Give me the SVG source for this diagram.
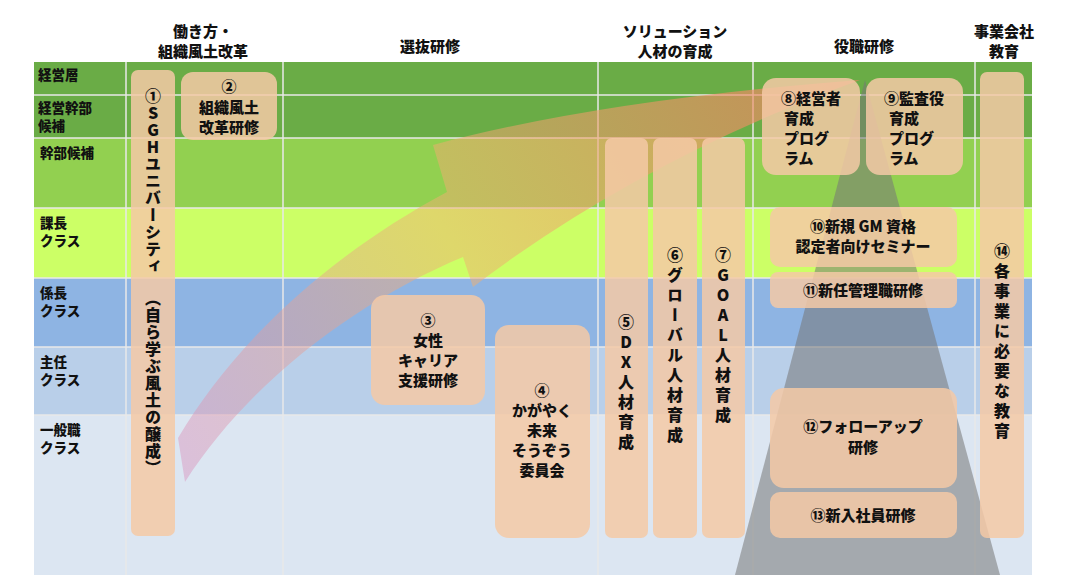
<svg xmlns="http://www.w3.org/2000/svg" width="1090" height="587" viewBox="0 0 1090 587">
<style>
text{font-family:"Noto Sans CJK JP","Noto Sans",sans-serif;font-weight:900;fill:#111}
.h{font-size:15px;text-anchor:middle}
.r{font-size:13.5px}
.b{fill:#f4c9a6;fill-opacity:0.85}
.t{font-size:15px;text-anchor:middle}
.v{font-size:16px;writing-mode:vertical-rl;text-orientation:upright;text-anchor:start;letter-spacing:4px}
.v1{letter-spacing:1px}
.g{stroke:#e8e8e8;stroke-width:1.5}
</style>
<defs>
<linearGradient id="ag" gradientUnits="userSpaceOnUse" x1="173" y1="480" x2="860" y2="80">
<stop offset="0" stop-color="#d890c0" stop-opacity="0.45"/>
<stop offset="0.45" stop-color="#f0b070" stop-opacity="0.5"/>
<stop offset="1" stop-color="#f08060" stop-opacity="0.7"/>
</linearGradient>
</defs>
<rect width="1090" height="587" fill="#fff"/>
<g id="bands">
<rect x="34" y="62" width="998" height="76" fill="#6aac46"/>
<rect x="34" y="138" width="998" height="70" fill="#92d050"/>
<rect x="34" y="208" width="998" height="70" fill="#ccff66"/>
<rect x="34" y="278" width="998" height="69" fill="#8eb4e3"/>
<rect x="34" y="347" width="998" height="68" fill="#b9cfe9"/>
<rect x="34" y="415" width="998" height="160" fill="#dce6f2"/>
<g class="g">
<line x1="34" y1="95" x2="1032" y2="95"/><line x1="34" y1="138" x2="1032" y2="138"/>
<line x1="34" y1="208" x2="1032" y2="208"/><line x1="34" y1="278" x2="1032" y2="278"/>
<line x1="34" y1="347" x2="1032" y2="347"/><line x1="34" y1="415" x2="1032" y2="415"/>
<line x1="126" y1="62" x2="126" y2="575"/><line x1="283" y1="62" x2="283" y2="575"/>
<line x1="598" y1="62" x2="598" y2="575"/><line x1="753" y1="62" x2="753" y2="575"/>
<line x1="975" y1="62" x2="975" y2="575"/>
</g>
</g>
<g id="headers">
<text class="h" x="203" y="37">働き方・</text><text class="h" x="203" y="57">組織風土改革</text>
<text class="h" x="430" y="52">選抜研修</text>
<text class="h" x="675" y="37">ソリューション</text><text class="h" x="675" y="57">人材の育成</text>
<text class="h" x="864" y="52">役職研修</text>
<text class="h" x="1004" y="37">事業会社</text><text class="h" x="1004" y="57">教育</text>
</g>
<g id="rowlabels">
<text class="r" x="38" y="80">経営層</text>
<text class="r" x="38" y="113">経営幹部</text><text class="r" x="38" y="131">候補</text>
<text class="r" x="40" y="158">幹部候補</text>
<text class="r" x="40" y="228">課長</text><text class="r" x="40" y="246">クラス</text>
<text class="r" x="40" y="298">係長</text><text class="r" x="40" y="316">クラス</text>
<text class="r" x="40" y="367">主任</text><text class="r" x="40" y="385">クラス</text>
<text class="r" x="40" y="435">一般職</text><text class="r" x="40" y="453">クラス</text>
</g>
<g id="decor">
<polygon points="865,80 1000,575 735,575" fill="#777" fill-opacity="0.55"/>
<path d="M178,438 C230,350 320,260 447,192 L433,145 Q600,100 860,80 Q640,160 473,287 L463,257 C360,300 250,380 185,482 Z" fill="url(#ag)"/>
</g>
<g id="n1"><rect class="b" x="131" y="70" width="44" height="466" rx="7"/>
<text class="v v1" x="153" y="88">①SGHユニバーシティ</text>
<text class="v v1" x="153" y="290">（自ら学ぶ風土の醸成）</text></g>
<g id="n2"><rect class="b" x="181" y="72" width="96" height="68" rx="12"/>
<text class="t" x="229" y="92">②</text><text class="t" x="229" y="113">組織風土</text><text class="t" x="229" y="133">改革研修</text></g>
<g id="n3"><rect class="b" x="371" y="295" width="114" height="110" rx="14"/>
<text class="t" x="428" y="326">③</text><text class="t" x="428" y="346">女性</text><text class="t" x="428" y="366">キャリア</text><text class="t" x="428" y="386">支援研修</text></g>
<g id="n4"><rect class="b" x="495" y="325" width="95" height="213" rx="14"/>
<text class="t" x="542" y="396">④</text><text class="t" x="542" y="416">かがやく</text><text class="t" x="542" y="436">未来</text><text class="t" x="542" y="456">そうぞう</text><text class="t" x="542" y="476">委員会</text></g>
<g id="n5"><rect class="b" x="605" y="138" width="43" height="400" rx="7"/>
<text class="v" x="626" y="314">⑤DX人材育成</text></g>
<g id="n6"><rect class="b" x="653" y="138" width="44" height="400" rx="7"/>
<text class="v" x="675" y="247">⑥グローバル人材育成</text></g>
<g id="n7"><rect class="b" x="702" y="138" width="43" height="400" rx="7"/>
<text class="v" x="723" y="247">⑦GOAL人材育成</text></g>
<g id="n8"><rect class="b" x="762" y="78" width="98" height="97" rx="14"/>
<text class="t" x="811" y="104">⑧経営者</text><text x="784" y="124" style="font-size:15px">育成</text><text x="784" y="144" style="font-size:15px">プログ</text><text x="784" y="164" style="font-size:15px">ラム</text></g>
<g id="n9"><rect class="b" x="866" y="78" width="97" height="97" rx="14"/>
<text class="t" x="914" y="104">⑨監査役</text><text x="889" y="124" style="font-size:15px">育成</text><text x="889" y="144" style="font-size:15px">プログ</text><text x="889" y="164" style="font-size:15px">ラム</text></g>
<g id="n10"><rect class="b" x="770" y="207" width="187" height="60" rx="10"/>
<text class="t" x="863" y="232">⑩新規 GM 資格</text><text class="t" x="863" y="252">認定者向けセミナー</text></g>
<g id="n11"><rect class="b" x="770" y="272" width="187" height="36" rx="8"/>
<text class="t" x="863" y="296">⑪新任管理職研修</text></g>
<g id="n12"><rect class="b" x="770" y="388" width="187" height="100" rx="14"/>
<text class="t" x="863" y="432">⑫フォローアップ</text><text class="t" x="863" y="453">研修</text></g>
<g id="n13"><rect class="b" x="770" y="492" width="187" height="46" rx="10"/>
<text class="t" x="863" y="521">⑬新入社員研修</text></g>
<g id="n14"><rect class="b" x="980" y="72" width="44" height="466" rx="7"/>
<text class="v" x="1002" y="243">⑭各事業に必要な教育</text></g>
</svg>
